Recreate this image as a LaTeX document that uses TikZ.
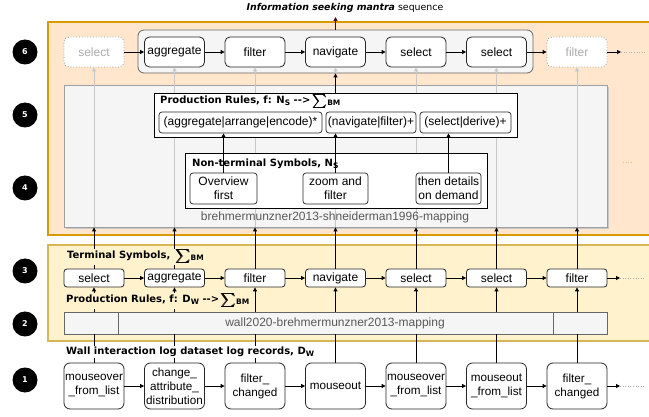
\documentclass[tikz,border=0pt]{standalone}
\usepackage{fontspec}
\setmainfont{Liberation Sans}
\newfontfamily\vfont{DejaVu Sans}
\usetikzlibrary{arrows.meta,positioning,calc}
\definecolor{orfill}{HTML}{FFE6CC}
\definecolor{ordraw}{HTML}{D79B00}
\definecolor{yefill}{HTML}{FFF2CC}
\definecolor{yedraw}{HTML}{D6B656}
\definecolor{grfill}{HTML}{F5F5F5}
\definecolor{grdraw}{HTML}{666666}
\definecolor{lgline}{HTML}{C8C8C8}
\definecolor{maroon}{HTML}{4C0519}
\newcommand{\SigOne}{\raisebox{-2.2pt}{\resizebox*{14.5pt}{14pt}{$\sum$}}}
\newcommand{\Sig}{\,\makebox[0pt][l]{\SigOne}\kern0.35pt\makebox[0pt][l]{\SigOne}\kern0.35pt\SigOne}
\newcommand{\sbt}[1]{\raisebox{-0.35ex}{\fontsize{7.5}{8}\selectfont #1}}
\begin{document}
\begin{tikzpicture}[x=1pt,y=-1pt,
  num/.style={circle,fill=black,minimum size=25pt,inner sep=0pt,text=white,font=\vfont\bfseries\fontsize{8}{9}\selectfont},
  sixbox/.style={draw=black!85,line width=0.8pt,fill=white,rounded corners=5pt,minimum width=60pt,minimum height=30pt,inner sep=0pt,font=\fontsize{12}{13}\selectfont},
  ghost/.style={draw=gray!80,line width=0.8pt,dotted,fill=white,rounded corners=5pt,minimum width=60pt,minimum height=30pt,inner sep=0pt,text=gray!65,font=\fontsize{12}{13}\selectfont},
  termbox/.style={draw=black!85,line width=0.8pt,fill=white,rounded corners=3pt,minimum width=60pt,minimum height=18pt,inner sep=0pt,font=\fontsize{12}{13}\selectfont},
  logbox/.style={draw=black!85,line width=0.8pt,fill=white,rounded corners=6pt,minimum width=60pt,minimum height=46pt,inner sep=0pt,align=center,font=\fontsize{11.7}{14}\selectfont},
  subbox/.style={draw=black!85,line width=0.7pt,fill=white,rounded corners=3pt,inner sep=0pt,align=center,font=\fontsize{12}{14}\selectfont},
  title/.style={anchor=west,inner sep=1pt,font=\vfont\bfseries\fontsize{10}{12}\selectfont},
  arr/.style={-{Triangle[length=4pt,width=4pt]},black,line width=0.9pt},
  garr/.style={-{Triangle[length=4pt,width=4pt]},lgline,line width=0.9pt},
  ln/.style={black,line width=0.9pt},
  dots/.style={gray!60,dotted,line width=0.6pt}
]
\useasboundingbox (0,0) rectangle (649,417);
% panels
\fill[orfill] (48,22) rectangle (652,235);
\draw[ordraw,line width=1.2pt] (652,22) -- (48,22) -- (48,235) -- (652,235);
\fill[yefill] (48,245) rectangle (652,341);
\draw[yedraw,line width=1.2pt] (652,245) -- (48,245) -- (48,341) -- (652,341);
% numbered circles
\node[num] (n6) at (25,52) {6};
\node[num] (n5) at (25,115) {5};
\node[num] (n4) at (25,188) {4};
\node[num] (n3) at (25,271) {3};
\node[num] (n2) at (25,324) {2};
\node[num] (n1) at (25,380) {1};
% gray panel (rows 4-5)
\fill[gray!45] (66,87) rectangle (609,229);
\node[draw=gray!75,fill=grfill,line width=0.9pt,minimum width=543pt,minimum height=142pt,inner sep=0pt] (gp) at (335.5,156) {};
% row 6 group
\node[draw=grdraw,fill=grfill,line width=0.8pt,rounded corners=6pt,minimum width=395pt,minimum height=43pt,inner sep=0pt] (grp) at (335.5,51.5) {};
% row 6 nodes
\node[ghost] (s1) at (94,52) {select};
\node[sixbox] (s2) at (174.5,52) {aggregate};
\node[sixbox] (s3) at (255,52) {filter};
\node[sixbox] (s4) at (335.5,52) {navigate};
\node[sixbox] (s5) at (416,52) {select};
\node[sixbox] (s6) at (496.5,52) {select};
\node[ghost] (s7) at (577,52) {filter};
\coordinate (s8) at (621,52);
\coordinate (s9) at (645,52);
\foreach \a/\b in {s1/s2,s2/s3,s3/s4,s4/s5,s5/s6,s6/s7,s7/s8} \draw[arr] (\a) -- (\b);
\draw[dots] (s8) -- (s9);
% title
\node[inner sep=0pt,font=\vfont\fontsize{9.4}{11}\selectfont] (ttl) at (345,8) {\textbf{\textit{Information seeking mantra}} sequence};
% row 3 nodes
\node[termbox] (t1) at (94,278) {select};
\node[termbox] (t2) at (174.5,278) {aggregate};
\node[termbox] (t3) at (255,278) {filter};
\node[termbox] (t4) at (335.5,278) {navigate};
\node[termbox] (t5) at (416,278) {select};
\node[termbox] (t6) at (496.5,278) {select};
\node[termbox] (t7) at (577,278) {filter};
\coordinate (t8) at (620,278);
\coordinate (t9) at (645,278);
\foreach \a/\b in {t1/t2,t2/t3,t3/t4,t4/t5,t5/t6,t6/t7,t7/t8} \draw[arr] (\a) -- (\b);
\draw[dots] (t8) -- (t9);
% light gray lines through gray panel to row 6
\foreach \i in {1,...,7} \draw[garr] (t\i |- gp.south) -- (s\i.south);
% production rules box (row 5)
\node[draw=black,fill=white,line width=0.8pt,minimum width=363pt,minimum height=44pt,inner sep=0pt] (pr) at (335.5,115) {};
\node[title,anchor=west] (prt) at (159,102) {Production Rules, f: N\sbt{S} -->\Sig\sbt{BM}};
\node[subbox,minimum width=163pt,minimum height=21pt] (p1) at (240.5,122.5) {(aggregate|arrange|encode)*};
\node[subbox,minimum width=90pt,minimum height=21pt] (p2) at (371,122.5) {(navigate|filter)+};
\node[subbox,minimum width=91pt,minimum height=21pt] (p3) at (465.5,122.5) {(select|derive)+};
% non-terminal box (row 4)
\node[draw=black,fill=white,line width=0.8pt,minimum width=302pt,minimum height=55pt,inner sep=0pt] (nt) at (336,180.5) {};
\node[title] (ntt) at (191,164) {Non-terminal Symbols, N\sbt{S}};
\node[subbox,minimum width=67pt,minimum height=31pt] (o1) at (223.5,188.5) {Overview\\first};
\node[subbox,minimum width=65pt,minimum height=31pt] (o2) at (335.5,188.5) {zoom and\\filter};
\node[subbox,minimum width=65pt,minimum height=31pt] (o3) at (448.5,188.5) {then details\\on demand};
\draw[arr] (o1.north) -- (o1.north |- p1.south);
\draw[arr] (o2.north) -- (o2.north |- p2.south);
\draw[arr] (o3.north) -- (o3.north |- p3.south);
\node[inner sep=0pt,text=black!65,font=\fontsize{12}{13}\selectfont] (bsm) at (335,217) {brehmermunzner2013-shneiderman1996-mapping};
% arrow from production rules to group and title
\draw[arr] (pr.north -| s4) -- (grp.south -| s4);
\draw[-{Triangle[length=4pt,width=4pt]},maroon,line width=0.9pt] (grp.north -| s4) -- (335.5,17);
\coordinate (dr1) at (623,162);
\coordinate (dr2) at (633,162);
\draw[dots,draw=ordraw!60] (dr1) -- (dr2);
% row 3 arrows to gray panel
\foreach \i in {1,...,7} \draw[arr] (t\i.north) -- (t\i |- gp.south);
% row 2 mapping box
\node[draw=grdraw,fill=grfill,line width=0.8pt,minimum width=543pt,minimum height=22pt,inner sep=0pt] (mb) at (335.5,323) {};
\draw[grdraw,line width=0.8pt] (118,312) -- (118,334);
\draw[grdraw,line width=0.8pt] (553,312) -- (553,334);
\node[inner sep=0pt,text=black!65,font=\fontsize{12}{13}\selectfont] (wbm) at (335,323) {wall2020-brehmermunzner2013-mapping};
\foreach \i in {1,...,7} \draw[arr] (t\i |- mb.north) -- (t\i.south);
% row 1 nodes
\node[logbox] (l1) at (94,386) {mouseover\\\_from\_list};
\node[logbox] (l2) at (174.5,386) {change\_\\attribute\_\\distribution};
\node[logbox] (l3) at (255,386) {filter\_\\changed};
\node[logbox] (l4) at (335.5,386) {mouseout};
\node[logbox] (l5) at (416,386) {mouseover\\\_from\_list};
\node[logbox] (l6) at (496.5,386) {mouseout\\\_from\_list};
\node[logbox] (l7) at (577,386) {filter\_\\changed};
\coordinate (l8) at (620,386);
\coordinate (l9) at (645,386);
\foreach \a/\b in {l1/l2,l2/l3,l3/l4,l4/l5,l5/l6,l6/l7,l7/l8} \draw[arr] (\a) -- (\b);
\draw[dots] (l8) -- (l9);
\foreach \i in {1,...,7} \draw[ln] (l\i.north) -- (l\i |- mb.south);
% titles with background
\node[title,fill=yefill] (tst) at (66,257) {Terminal Symbols, \Sig\sbt{BM}};
\node[title,fill=yefill] (prw) at (65,301) {Production Rules, f: D\sbt{W} -->\Sig\sbt{BM}};
\node[title,fill=white] (wil) at (65,352) {Wall interaction log dataset log records, D\sbt{W}};
\end{tikzpicture}
\end{document}
